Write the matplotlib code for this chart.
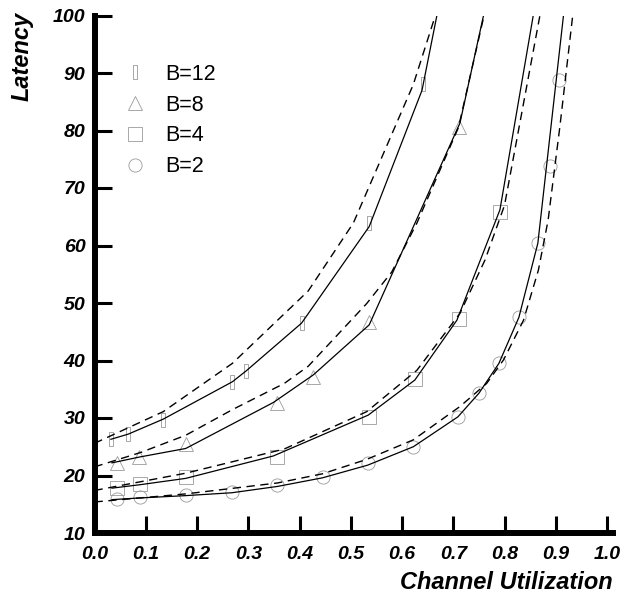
import matplotlib
matplotlib.use('Agg')
import matplotlib.pyplot as plt
from matplotlib.path import Path
from matplotlib.lines import Line2D

plt.rcParams['font.family'] = ['Liberation Sans', 'DejaVu Sans']

labels = ['B=12', 'B=8', 'B=4', 'B=2']

# Simulation markers
m12_x = [0.032, 0.066, 0.134, 0.269, 0.296, 0.404, 0.536, 0.640]
m12_y = [26.3, 27.2, 29.7, 36.3, 38.2, 46.6, 63.9, 88.1]
m8_x = [0.043, 0.087, 0.178, 0.357, 0.427, 0.536, 0.711]
m8_y = [22.1, 23.2, 25.5, 32.6, 37.2, 46.7, 80.6]
m4_x = [0.043, 0.089, 0.178, 0.357, 0.536, 0.625, 0.711, 0.791]
m4_y = [17.9, 18.5, 19.7, 23.3, 30.2, 36.7, 47.2, 65.9]
m2_x = [0.043, 0.089, 0.178, 0.268, 0.357, 0.445, 0.533, 0.622, 0.709,
        0.750, 0.789, 0.828, 0.865, 0.889, 0.906]
m2_y = [15.9, 16.2, 16.6, 17.2, 18.3, 19.8, 22.1, 25.0, 30.2,
        34.3, 39.5, 47.5, 60.4, 73.9, 88.7]

# Solid lines
s12_x = [0.032, 0.066, 0.134, 0.269, 0.296, 0.404, 0.536, 0.639, 0.668]
s12_y = [26.3, 27.2, 29.8, 36.3, 38.2, 46.5, 63.3, 87.0, 100]
s8_x = [0.034, 0.087, 0.178, 0.349, 0.427, 0.536, 0.596, 0.713, 0.759]
s8_y = [22.2, 23.2, 24.7, 32.7, 37.5, 46.2, 58.1, 81.3, 100]
s4_x = [0.034, 0.089, 0.178, 0.349, 0.534, 0.625, 0.707, 0.791, 0.856]
s4_y = [17.8, 18.4, 19.5, 23.4, 30.5, 36.6, 47.0, 66.2, 100]
s2_x = [0.034, 0.089, 0.178, 0.268, 0.357, 0.445, 0.533, 0.622, 0.709,
        0.750, 0.789, 0.828, 0.865, 0.915]
s2_y = [15.8, 16.1, 16.5, 17.0, 18.1, 19.6, 21.8, 25.0, 30.2,
        34.3, 39.5, 47.5, 60.4, 100]

# Dashed (model) lines
d12_x = [0.0, 0.134, 0.269, 0.417, 0.505, 0.622, 0.665]
d12_y = [25.6, 31.1, 39.5, 52.1, 63.9, 88.0, 100]
d8_x = [0.0, 0.09, 0.178, 0.27, 0.37, 0.417, 0.531, 0.580, 0.629, 0.71, 0.76]
d8_y = [21.5, 24.0, 27.0, 31.5, 36.0, 39.0, 49.9, 55.4, 63.9, 80.5, 100]
d4_x = [0.0, 0.178, 0.37, 0.531, 0.629, 0.713, 0.762, 0.80, 0.869]
d4_y = [17.4, 20.4, 24.6, 31.1, 38.3, 48.2, 57.5, 67.0, 100]
d2_x = [0.0, 0.178, 0.357, 0.445, 0.531, 0.622, 0.713, 0.765, 0.798,
        0.837, 0.866, 0.885, 0.908, 0.933]
d2_y = [15.4, 16.8, 18.7, 20.3, 22.8, 26.2, 32.0, 36.0, 40.1,
        47.0, 55.7, 64.4, 80.7, 100]

x_ticks = [0.0, 0.1, 0.2, 0.3, 0.4, 0.5, 0.6, 0.7, 0.8, 0.9, 1.0]
y_ticks = [10, 20, 30, 40, 50, 60, 70, 80, 90, 100]

bar_marker = Path([(-0.28, -1), (0.28, -1), (0.28, 1), (-0.28, 1), (-0.28, -1)],
                  [Path.MOVETO, Path.LINETO, Path.LINETO, Path.LINETO, Path.CLOSEPOLY])
markers = [bar_marker, '^', 's', 'o']
msizes = [9.5, 10, 9.5, 9.5]
mcol = '#9a9a9a'

W, H = 624, 593
fig = plt.figure(figsize=(W / 100, H / 100), dpi=100)
ax = fig.add_axes([94.5 / W, 1 - 533 / H, (613.2 - 94.5) / W, (533 - 15.5) / H])

mx = [m12_x, m8_x, m4_x, m2_x]
my = [m12_y, m8_y, m4_y, m2_y]
sx = [s12_x, s8_x, s4_x, s2_x]
sy = [s12_y, s8_y, s4_y, s2_y]
dx = [d12_x, d8_x, d4_x, d2_x]
dy = [d12_y, d8_y, d4_y, d2_y]

for i in range(4):
    ax.plot(mx[i], my[i], linestyle='none', marker=markers[i], ms=msizes[i],
            mfc='none', mec=mcol, mew=0.6, zorder=2)
    ax.plot(sx[i], sy[i], color='black', lw=0.9, zorder=3)
    ax.plot(dx[i], dy[i], color='black', lw=1.0, dashes=(6, 4), zorder=3)

ax.set_xlim(0, 1.012)
ax.set_ylim(10, 100)
ax.set_xticks(x_ticks)
ax.set_xticklabels(['%.1f' % v for v in x_ticks])
ax.set_yticks(y_ticks)
ax.set_yticklabels([str(v) for v in y_ticks])

for side in ['top', 'right']:
    ax.spines[side].set_visible(False)
for side in ['left', 'bottom']:
    ax.spines[side].set_linewidth(4.3)

ax.tick_params(axis='both', direction='in', length=12.5, width=2.2)
ax.tick_params(axis='y', pad=6.5)
ax.tick_params(axis='x', pad=9.5)
for lab in ax.get_xticklabels() + ax.get_yticklabels():
    lab.set_fontsize(14)
    lab.set_fontweight('bold')
    lab.set_fontstyle('italic')

fig.text(22 / W, 1 - 56 / H, 'Latency', rotation=90, ha='center', va='center',
         fontsize=17, fontweight='bold', fontstyle='italic')
fig.text(613 / W, 1 - 589 / H, 'Channel Utilization', ha='right', va='baseline',
         fontsize=17, fontweight='bold', fontstyle='italic')

handles = [Line2D([], [], linestyle='none', marker=markers[i], ms=msizes[i],
                  mfc='none', mec=mcol, mew=0.6) for i in range(4)]
ax.legend(handles, labels, loc='upper left', bbox_to_anchor=(124.25 / W, 1 - 64 / H),
          bbox_transform=fig.transFigure, frameon=False, fontsize=15.5,
          handlelength=1.0, handletextpad=0.9, labelspacing=0.45,
          borderpad=0, borderaxespad=0)

fig.savefig('out.png', dpi=100)
